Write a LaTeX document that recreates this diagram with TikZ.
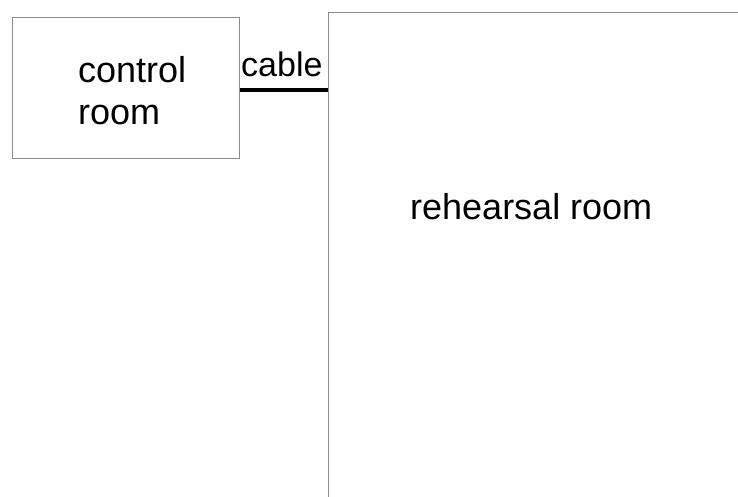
\documentclass[tikz,border=0pt]{standalone}
\usepackage{fontspec}
\setmainfont{Liberation Sans}
\begin{document}
\begin{tikzpicture}[x=1pt,y=-1pt,
  room/.style={draw=roomgray,line width=1.2pt,inner sep=0pt,rectangle},
  lbl/.style={anchor=base west,inner sep=0pt,font=\fontsize{36}{42}\selectfont},
  cablestyle/.style={line width=4pt,black}]
\definecolor{roomgray}{RGB}{140,140,140}
\useasboundingbox (0,0) rectangle (738,497);
\clip (0,0) rectangle (738,497);
\node[room,minimum width=227.5pt,minimum height=141pt,anchor=north west] (control) at (11.5,17) {};
\node[room,minimum width=500pt,minimum height=600pt,anchor=north west] (rehearsal) at (327.5,12) {};
\node[lbl] (t1) at (78,83) {control};
\node[lbl] (t2) at (78,125) {room};
\node[lbl] (t3) at (410,219) {rehearsal room};
\node[lbl,font=\fontsize{34}{40}\selectfont] (t4) at (241,77) {cable};
\coordinate (c1) at ([yshift=-2]control.east);
\draw[cablestyle] (c1) -- (c1 -| rehearsal.west);
\end{tikzpicture}
\end{document}
